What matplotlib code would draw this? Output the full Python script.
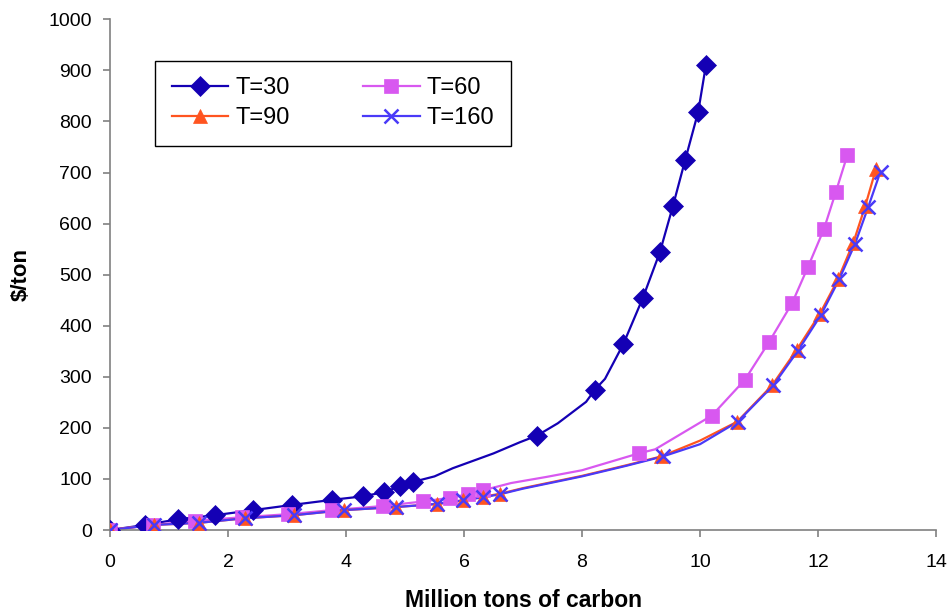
import matplotlib
matplotlib.use("Agg")
import matplotlib.pyplot as plt

plt.rcParams["font.family"] = ["Liberation Sans", "DejaVu Sans"]

# marker points
t30_x = [0, 0.6, 1.15, 1.78, 2.43, 3.08, 3.76, 4.29, 4.64, 4.92, 5.13,
         7.24, 8.22, 8.7, 9.03, 9.32, 9.54, 9.75, 9.97, 10.1]
t30_y = [0, 10, 21, 29, 39, 49, 59, 66, 74, 86, 94,
         185, 275, 364, 454, 544, 634, 725, 819, 910]
t60_x = [0, 0.73, 1.44, 2.24, 3.02, 3.77, 4.63, 5.31, 5.76, 6.07, 6.33,
         8.96, 10.2, 10.76, 11.17, 11.56, 11.83, 12.1, 12.3, 12.5]
t60_y = [0, 10, 18, 25, 31, 39, 47, 56, 63, 70, 78,
         150, 224, 294, 368, 444, 515, 589, 661, 735]
t90_x = [0, 0.74, 1.5, 2.29, 3.12, 3.97, 4.85, 5.54, 5.98, 6.32, 6.61,
         9.34, 10.63, 11.22, 11.64, 12.03, 12.34, 12.6, 12.8, 12.98]
t90_y = [0, 10, 14, 23, 29, 39, 45, 51, 58, 65, 71,
         144, 212, 283, 353, 423, 491, 563, 634, 706]
t160_x = [0, 0.75, 1.5, 2.28, 3.12, 3.97, 4.85, 5.54, 5.98, 6.32, 6.61,
          9.37, 10.64, 11.24, 11.66, 12.05, 12.36, 12.63, 12.85, 13.06]
t160_y = [0, 10, 14, 23, 29, 39, 45, 51, 58, 64, 70,
          144, 212, 283, 351, 421, 491, 561, 632, 702]

# extra line vertices (curve bends between markers)
t30_bend_x = [5.5, 5.81, 6.5, 6.95, 7.59, 8.07, 8.39]
t30_bend_y = [105, 121, 150, 172, 209, 251, 296]
t60_bend_x = [6.8, 7.4, 8.0, 9.24]
t60_bend_y = [92, 104, 117, 158]
t90_bend_x = [7.0, 7.5, 8.0, 8.76, 10.0]
t90_bend_y = [82, 94, 106, 127, 175]
t160_bend_x = [7.0, 7.5, 8.0, 8.76, 10.0]
t160_bend_y = [81, 93, 105, 126, 168]

labels = ["T=30", "T=60", "T=90", "T=160"]
colors = ["#1400B4", "#D858F0", "#FF5420", "#4A3AF8"]
markers = ["D", "s", "^", "x"]
msizes = [10, 9.5, 10.5, 10]

series = [
    (t30_x, t30_y, t30_bend_x, t30_bend_y),
    (t60_x, t60_y, t60_bend_x, t60_bend_y),
    (t90_x, t90_y, t90_bend_x, t90_bend_y),
    (t160_x, t160_y, t160_bend_x, t160_bend_y),
]


def merged(mx, my, bx, by):
    pts = sorted(zip(list(mx) + list(bx), list(my) + list(by)))
    return [p[0] for p in pts], [p[1] for p in pts]


fig = plt.figure(figsize=(9.51, 6.16), dpi=100)
ax = fig.add_axes([0.1157, 0.1396, 0.8685, 0.829])

handles = []
for (mx, my, bx, by), lab, col, mk, ms in zip(series, labels, colors, markers, msizes):
    lx, ly = merged(mx, my, bx, by)
    mew = 1.8 if mk == "x" else 0.5
    ax.plot(lx, ly, color=col, lw=1.6, zorder=2)
    ax.plot(mx, my, ls="none", marker=mk, ms=ms, color=col,
            mec=col, mew=mew, zorder=3)
    h, = ax.plot([], [], color=col, lw=1.6, marker=mk, ms=ms, mec=col, mew=mew)
    handles.append(h)

ax.set_xlim(0, 14)
ax.set_ylim(0, 1000)
ax.set_xticks(range(0, 15, 2))
ax.set_yticks(range(0, 1001, 100))

for s in ["top", "right"]:
    ax.spines[s].set_visible(False)
for s in ["left", "bottom"]:
    ax.spines[s].set_color("#808080")
    ax.spines[s].set_linewidth(1.2)
ax.tick_params(direction="out", length=5, width=1.2, color="#808080",
               labelsize=14, labelcolor="black")
ax.tick_params(axis="x", pad=12)
ax.tick_params(axis="y", pad=8)

ax.set_xlabel("Million tons of carbon", fontsize=16.5, fontweight="bold", labelpad=13)
ax.set_ylabel("\\$/ton", fontsize=16, fontweight="bold", labelpad=12)

# legend fills by column, so order rows as T=30/T=60 then T=90/T=160
order = [0, 2, 1, 3]
leg = ax.legend([handles[i] for i in order], [labels[i] for i in order],
                ncol=2, loc="upper left",
                bbox_to_anchor=(0.0545, 0.919), borderaxespad=0,
                fontsize=17, frameon=True, fancybox=False,
                edgecolor="black", framealpha=1, numpoints=1,
                handlelength=2.4, columnspacing=3.1, labelspacing=0.35,
                borderpad=0.7, handletextpad=0.3)
leg.get_frame().set_linewidth(1.0)

fig.savefig("out.png", dpi=100)
